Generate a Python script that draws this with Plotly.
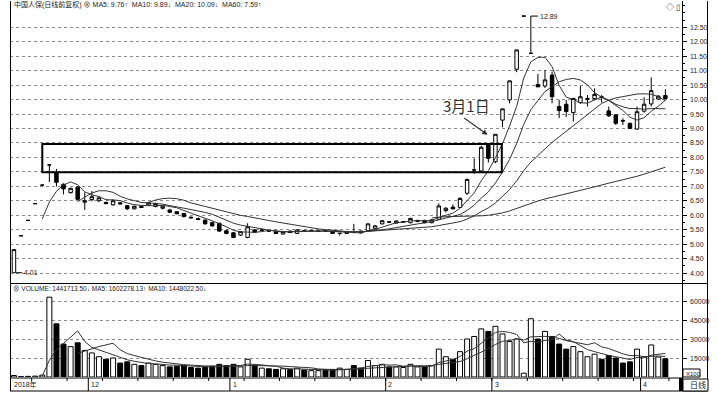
import plotly.graph_objects as go
import pandas as pd

# ---------------- data ----------------
opens = [4.01, 5.29, 5.82, 6.40, 7.04, 7.74, 7.47, 7.07, 6.78, 6.97,
         6.45, 6.54, 6.50, 6.44, 6.36, 6.43, 6.33, 6.22, 6.30, 6.35,
         6.30, 6.24, 6.18, 6.12, 6.06, 5.93, 5.88, 5.83, 5.74, 5.72,
         5.46, 5.39, 5.31, 5.23, 5.49, 5.47, 5.46, 5.43, 5.35, 5.45,
         5.37, 5.47, 5.46, 5.45, 5.46, 5.45, 5.37, 5.37, 5.41, 5.45,
         5.46, 5.53, 5.70, 5.77, 5.73, 5.76, 5.74, 5.78, 5.82, 5.74,
         5.86, 6.16, 6.28, 6.27, 6.76, 7.56, 7.53, 8.46, 7.85, 9.29,
         9.99, 11.05, 12.89, 11.60, 10.52, 10.47, 10.85, 9.76, 9.84, 9.55,
         9.90, 10.00, 10.03, 10.10, 9.61, 9.47, 9.28, 9.18, 8.98, 9.60,
         9.85, 10.02, 10.14]
highs = [4.81, 5.29, 5.82, 6.40, 7.04, 7.74, 7.60, 7.10, 6.95, 7.00,
         6.79, 6.84, 6.66, 6.48, 6.55, 6.46, 6.35, 6.33, 6.33, 6.46,
         6.44, 6.34, 6.22, 6.14, 6.08, 5.96, 5.92, 5.86, 5.78, 5.74,
         5.50, 5.42, 5.45, 5.72, 5.52, 5.52, 5.48, 5.45, 5.45, 5.47,
         5.51, 5.49, 5.48, 5.47, 5.47, 5.46, 5.39, 5.43, 5.70, 5.47,
         5.72, 5.66, 5.83, 5.79, 5.82, 5.80, 5.91, 5.84, 5.84, 5.86,
         6.41, 6.28, 6.38, 6.62, 7.26, 7.97, 8.40, 8.48, 8.80, 9.68,
         10.65, 11.72, 12.89, 12.89, 10.89, 11.02, 10.97, 9.99, 9.99, 10.06,
         10.47, 10.16, 10.39, 10.16, 9.76, 9.50, 9.35, 9.20, 9.76, 10.08,
         10.77, 10.15, 10.36]
lows = [4.01, 5.29, 5.82, 6.40, 7.04, 7.15, 6.99, 6.72, 6.75, 6.52,
        6.18, 6.48, 6.45, 6.38, 6.33, 6.37, 6.18, 6.20, 6.25, 6.33,
        6.27, 6.20, 6.08, 6.03, 5.93, 5.88, 5.83, 5.68, 5.60, 5.42,
        5.34, 5.21, 5.28, 5.20, 5.38, 5.45, 5.42, 5.35, 5.33, 5.38,
        5.35, 5.44, 5.43, 5.43, 5.43, 5.35, 5.30, 5.35, 5.38, 5.37,
        5.44, 5.50, 5.68, 5.73, 5.71, 5.73, 5.72, 5.76, 5.72, 5.72,
        5.84, 6.10, 6.20, 6.25, 6.70, 7.43, 7.50, 7.82, 7.80, 9.04,
        9.87, 10.95, 12.89, 11.60, 10.44, 10.40, 9.87, 9.36, 9.40, 9.24,
        9.85, 9.76, 9.98, 9.90, 9.40, 9.12, 9.12, 8.98, 8.95, 9.55,
        9.76, 10.00, 10.00]
closes = [4.81, 5.29, 5.82, 6.40, 7.04, 7.74, 7.14, 6.91, 6.93, 6.55,
          6.50, 6.64, 6.60, 6.40, 6.50, 6.39, 6.22, 6.31, 6.27, 6.43,
          6.40, 6.31, 6.10, 6.05, 5.95, 5.91, 5.85, 5.70, 5.63, 5.45,
          5.37, 5.23, 5.43, 5.60, 5.41, 5.49, 5.45, 5.37, 5.43, 5.40,
          5.49, 5.46, 5.46, 5.45, 5.45, 5.37, 5.37, 5.41, 5.40, 5.39,
          5.70, 5.63, 5.81, 5.76, 5.80, 5.78, 5.89, 5.82, 5.74, 5.84,
          6.32, 6.24, 6.22, 6.58, 7.24, 7.57, 8.35, 7.97, 8.80, 9.68,
          10.65, 11.72, 12.89, 11.60, 10.44, 10.68, 10.10, 9.62, 9.59, 10.04,
          10.10, 10.04, 10.18, 10.07, 9.44, 9.18, 9.26, 9.00, 9.58, 9.84,
          10.31, 10.12, 10.04]
volumes = [1200, 300, 500, 700, 1500, 63000, 42000, 26000, 24000, 27000,
           21000, 19000, 16000, 14000, 15000, 11000, 12000, 10000, 9000, 11000,
           10000, 9000, 8000, 8500, 9000, 7500, 7000, 8000, 8500, 10000,
           9000, 10000, 8000, 14000, 9000, 7000, 6500, 6000, 6500, 6000,
           7000, 5500, 5000, 5000, 5500, 6000, 7000, 6000, 9000, 7000,
           13000, 9000, 10000, 8000, 8000, 7500, 10000, 8000, 8000, 9000,
           22000, 16000, 14000, 20000, 30000, 32000, 38000, 36000, 40000, 34000,
           28000, 30000, 3000, 46000, 30000, 36000, 32000, 26000, 22000, 24000,
           20000, 16000, 18000, 14000, 17000, 15000, 11000, 12000, 22000, 15800,
           25300, 15800, 14400]
price_ticks = [4.0, 4.5, 5.0, 5.5, 6.0, 6.5, 7.0, 7.5, 8.0, 8.5, 9.0, 9.5,
               10.0, 10.5, 11.0, 11.5, 12.0, 12.5]
volume_ticks = [15000, 30000, 45000, 60000]
month_start_idx = [11, 31, 53, 68, 89]
month_labels = ["12", "1", "2", "3", "4"]
legend_top = "中国人保(日线前复权) ⊗ MA5: 9.76↑  MA10: 9.89↓  MA20: 10.09↓  MA60: 7.59↑"
legend_vol = "⊗ VOLUME: 1441713.50↓ MA5: 1602278.13↑ MA10: 1448022.50↓"

# ---------------- geometry helpers ----------------
W, H = 718, 395
def pxx(p):
    return p / W
def pyy(p):
    return 1 - p / H

idx = list(range(len(closes)))
cs = pd.Series(closes)
ma = {n: cs.rolling(n).mean() for n in (5, 10, 20, 60)}
vs = pd.Series(volumes)
vma = {n: vs.rolling(n).mean() for n in (5, 10)}

XR = [-0.56, 94.35]
PPU = 28.9  # pixels per price unit
y_bot, y_top = 283, 1
price_range = [4 - (y_bot - 273) / PPU, 4 + (273 - y_top) / PPU]
VPX = 19 / 15000
vol_range = [0, (377 - 283) / VPX]

FONT = "Liberation Sans, Arial, Noto Sans CJK SC, sans-serif"
INK = "#222222"

fig = go.Figure()
fig.add_trace(go.Candlestick(
    x=idx, open=opens, high=highs, low=lows, close=closes,
    increasing=dict(line=dict(color="black", width=1), fillcolor="white"),
    decreasing=dict(line=dict(color="black", width=1), fillcolor="black"),
    whiskerwidth=0, xaxis="x", yaxis="y", showlegend=False, hoverinfo="skip"))
for n in (5, 10, 20, 60):
    fig.add_trace(go.Scatter(x=idx, y=ma[n], mode="lines",
                             line=dict(color="#333333", width=1),
                             xaxis="x", yaxis="y", showlegend=False, hoverinfo="skip"))

vcolors = ["white" if c >= o else "black" for o, c in zip(opens, closes)]
fig.add_trace(go.Bar(x=idx, y=volumes, width=0.7,
                     marker=dict(color=vcolors, line=dict(color="black", width=1)),
                     xaxis="x2", yaxis="y2", showlegend=False, hoverinfo="skip"))
for n in (5, 10):
    fig.add_trace(go.Scatter(x=idx, y=vma[n], mode="lines",
                             line=dict(color="#333333", width=1),
                             xaxis="x2", yaxis="y2", showlegend=False, hoverinfo="skip"))

xdom = [pxx(10), pxx(682)]
fig.update_layout(
    width=W, height=H, margin=dict(l=0, r=0, t=0, b=0, autoexpand=False),
    paper_bgcolor="white", plot_bgcolor="white", showlegend=False,
    font=dict(family=FONT, size=7, color=INK),
    boxgap=0.3,
    xaxis=dict(domain=xdom, range=XR, showticklabels=False, showgrid=False, automargin=False,
               zeroline=False, rangeslider=dict(visible=False), anchor="y", fixedrange=True),
    yaxis=dict(domain=[pyy(y_bot), pyy(y_top)], range=price_range, side="right",
               tickvals=price_ticks, showticklabels=False, automargin=False,
               showgrid=True, gridcolor="#8a8a8a", griddash="dot", gridwidth=1,
               ticks="outside", ticklen=4, tickcolor="black", zeroline=False, anchor="x",
               minor=dict(dtick=0.25, tick0=4, ticks="outside", ticklen=2, tickcolor="black", showgrid=False)),
    xaxis2=dict(domain=xdom, range=XR, showticklabels=False, showgrid=False, automargin=False,
                zeroline=False, anchor="y2", matches="x"),
    yaxis2=dict(domain=[pyy(377), pyy(y_bot)], range=vol_range, side="right",
                tickvals=volume_ticks, showticklabels=False, automargin=False,
                showgrid=True, gridcolor="#8a8a8a", griddash="dot", gridwidth=1,
                ticks="outside", ticklen=4, tickcolor="black", zeroline=False, anchor="x2"),
)

shapes = []
def pline(x0, y0, x1, y1, w=1, color="black"):
    shapes.append(dict(type="line", xref="paper", yref="paper",
                       x0=pxx(x0), y0=pyy(y0), x1=pxx(x1), y1=pyy(y1),
                       line=dict(color=color, width=w)))
# frame
pline(10.5, 1, 10.5, 391)
pline(682.5, 1, 682.5, 391)
pline(707.5, 1, 707.5, 391)
pline(10, 283.5, 708, 283.5)
pline(10, 378, 683, 378)
pline(10, 391, 708, 391)
# month separators on date strip
for m in month_start_idx:
    shapes.append(dict(type="line", xref="x", yref="paper", x0=m - 0.5, x1=m - 0.5,
                       y0=pyy(378), y1=pyy(391), line=dict(color="black", width=1)))
for k in range(0, len(closes), 5):
    shapes.append(dict(type="line", xref="x", yref="paper", x0=k + 2.5, x1=k + 2.5,
                       y0=pyy(378), y1=pyy(381), line=dict(color="black", width=1)))
# black block + boxes at bottom right
shapes.append(dict(type="rect", xref="paper", yref="paper", x0=pxx(679), x1=pxx(683),
                   y0=pyy(391), y1=pyy(378), fillcolor="black", line=dict(width=0)))
shapes.append(dict(type="rect", xref="paper", yref="paper", x0=pxx(683), x1=pxx(700),
                   y0=pyy(377), y1=pyy(369), fillcolor="white", line=dict(color="black", width=1)))
shapes.append(dict(type="rect", xref="paper", yref="paper", x0=pxx(683), x1=pxx(708),
                   y0=pyy(391), y1=pyy(379), fillcolor="white", line=dict(color="black", width=1)))
# highlight box on the price panel
shapes.append(dict(type="rect", xref="x", yref="y", x0=4.0, x1=68.9, y0=7.49, y1=8.46,
                   line=dict(color="black", width=2), fillcolor="rgba(0,0,0,0)"))
fig.update_layout(shapes=shapes)

ann = []
def ptext(x, y, t, size=7, anchor="left", fam=FONT):
    ann.append(dict(xref="paper", yref="paper", x=pxx(x), y=pyy(y), text=t, showarrow=False,
                    xanchor=anchor, yanchor="middle", font=dict(size=size, family=fam, color=INK)))
ptext(12, 5, legend_top)
ptext(664, 8, "◇ ▯", size=8)
ptext(11, 288, legend_vol, size=6.5)
# right axis labels
for v in price_ticks:
    ann.append(dict(xref="paper", yref="y", x=pxx(688), y=v, text=f"{v:.2f}", showarrow=False,
                    xanchor="left", yanchor="middle", font=dict(size=7, color=INK)))
for v in volume_ticks:
    ann.append(dict(xref="paper", yref="y2", x=pxx(688), y=v, text=str(v), showarrow=False,
                    xanchor="left", yanchor="middle", font=dict(size=7, color=INK)))
ptext(12, 384.5, "2018年")
for m, lab in zip(month_start_idx, month_labels):
    ann.append(dict(xref="x", yref="paper", x=m - 0.4, y=pyy(384.5), text=lab, showarrow=False,
                    xanchor="left", yanchor="middle", font=dict(size=7, color=INK)))
ptext(684, 373.5, "X100", size=6)
ptext(688, 385, "日线", size=8)
# 3月1日 label and arrow
ann.append(dict(xref="paper", yref="paper", x=pxx(466), y=pyy(105.5), text="3月1日", showarrow=False,
                xanchor="center", yanchor="middle",
                font=dict(size=15, family="Noto Sans CJK SC, sans-serif", color="#333333")))
ann.append(dict(xref="x", yref="y", x=66.9, y=8.78, ax=-25, ay=-18, axref="pixel", ayref="pixel",
                text="", showarrow=True, arrowhead=2, arrowsize=1, arrowwidth=1.1, arrowcolor="#333333"))
# extreme-value markers
ann.append(dict(xref="x", yref="y", x=73, y=max(highs), ax=7, ay=0, text="12.89",
                showarrow=True, arrowhead=0, arrowwidth=1, arrowcolor="black",
                xanchor="left", yanchor="middle", font=dict(size=7, color=INK)))
ann.append(dict(xref="x", yref="y", x=0.3, y=min(lows), ax=6, ay=0, text="4.01",
                showarrow=True, arrowhead=0, arrowwidth=1, arrowcolor="black",
                xanchor="left", yanchor="middle", font=dict(size=7, color=INK)))
fig.update_layout(annotations=ann)

fig.write_html("out.html", config={"displayModeBar": False},
               post_script="document.body.style.margin='0px';")
